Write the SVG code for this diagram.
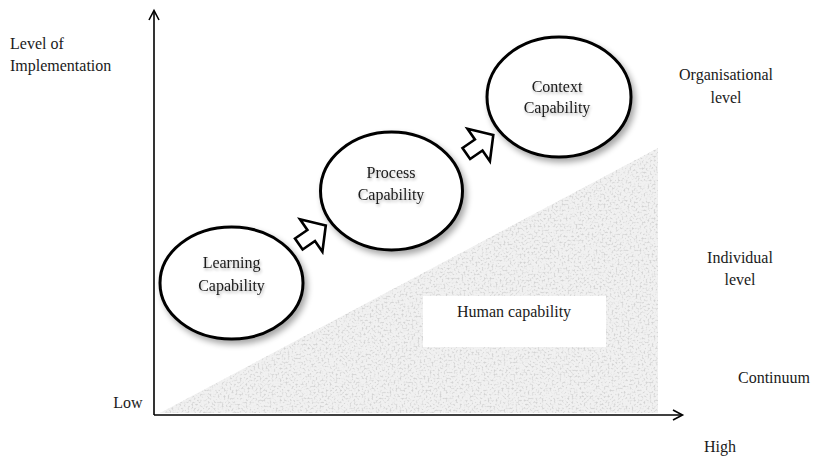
<svg xmlns="http://www.w3.org/2000/svg" width="813" height="457" viewBox="0 0 813 457">
  <defs>
    <style>
      text { font-family: "Liberation Serif", "Times New Roman", serif; font-size: 16px; fill: #1a1a1a; }
      .c { text-anchor: middle; }
      .node { fill: #ffffff; stroke: #000000; stroke-width: 3; }
      .axis { stroke: #000000; stroke-width: 1.6; fill: none; }
      .blk { fill: #ffffff; stroke: #000000; stroke-width: 2.6; stroke-linejoin: miter; }
      .ntext { filter: url(#tshadow); }
    </style>
    <filter id="shadow" x="-20%" y="-20%" width="150%" height="150%">
      <feGaussianBlur in="SourceAlpha" stdDeviation="3"/>
      <feOffset dx="3" dy="4" result="b"/>
      <feComponentTransfer><feFuncA type="linear" slope="0.35"/></feComponentTransfer>
      <feMerge><feMergeNode/><feMergeNode in="SourceGraphic"/></feMerge>
    </filter>
    <filter id="tshadow" x="-10%" y="-30%" width="130%" height="180%">
      <feGaussianBlur in="SourceAlpha" stdDeviation="1.5"/>
      <feOffset dx="1" dy="2"/>
      <feComponentTransfer><feFuncA type="linear" slope="0.3"/></feComponentTransfer>
      <feMerge><feMergeNode/><feMergeNode in="SourceGraphic"/></feMerge>
    </filter>
    <filter id="grain" x="0" y="0" width="100%" height="100%">
      <feTurbulence type="fractalNoise" baseFrequency="0.5" numOctaves="3" seed="5" result="n"/>
      <feColorMatrix in="n" type="matrix" values="0 0 0 0 0.65  0 0 0 0 0.65  0 0 0 0 0.65  -3.5 0 0 0 1.8" result="g"/>
      <feComposite in="g" in2="SourceGraphic" operator="in" result="gi"/>
      <feMerge><feMergeNode in="SourceGraphic"/><feMergeNode in="gi"/></feMerge>
    </filter>
    <polygon id="blockArrow" points="325.8,225.5 300.0,219.3 307.4,230.0 295.0,238.5 302.6,249.5 315.0,241.0 322.4,251.7"/>
  </defs>

  <rect x="0" y="0" width="813" height="457" fill="#ffffff"/>

  <g id="continuum-triangle">
    <polygon points="160,413 658,148 658,413" fill="#f1f1f1" filter="url(#grain)"/>
  </g>

  <g id="axes">
    <line class="axis" x1="154" y1="415" x2="154" y2="11"/>
    <polyline class="axis" points="149,20 154,10.5 159,20"/>
    <line class="axis" x1="154" y1="415" x2="682" y2="415"/>
    <polyline class="axis" points="673,410 682.5,415 673,420"/>
  </g>

  <g id="human-capability">
    <rect x="423" y="296" width="183" height="51" fill="#ffffff"/>
    <text class="c" x="514" y="317">Human capability</text>
  </g>

  <g id="learning-capability">
    <ellipse class="node" cx="231.5" cy="283" rx="71.5" ry="56" filter="url(#shadow)"/>
    <text class="c ntext" x="231.5" y="268">Learning</text>
    <text class="c ntext" x="231.5" y="291">Capability</text>
  </g>

  <g id="process-capability">
    <ellipse class="node" cx="391.5" cy="191" rx="71" ry="59" filter="url(#shadow)"/>
    <text class="c ntext" x="391" y="178">Process</text>
    <text class="c ntext" x="391" y="200">Capability</text>
  </g>

  <g id="context-capability">
    <ellipse class="node" cx="559" cy="97" rx="72" ry="60" filter="url(#shadow)"/>
    <text class="c ntext" x="557" y="92">Context</text>
    <text class="c ntext" x="557" y="113">Capability</text>
  </g>

  <g id="connectors">
    <use href="#blockArrow" class="blk"/>
    <use href="#blockArrow" class="blk" transform="translate(167.5,-90.5)"/>
  </g>

  <g id="labels">
    <text x="10" y="49">Level of</text>
    <text x="10" y="71">Implementation</text>
    <text class="c" x="726" y="80">Organisational</text>
    <text class="c" x="726" y="103">level</text>
    <text class="c" x="740" y="263">Individual</text>
    <text class="c" x="740" y="285">level</text>
    <text class="c" x="774" y="383">Continuum</text>
    <text class="c" x="720" y="452">High</text>
    <text class="c" x="128" y="408">Low</text>
  </g>
</svg>
